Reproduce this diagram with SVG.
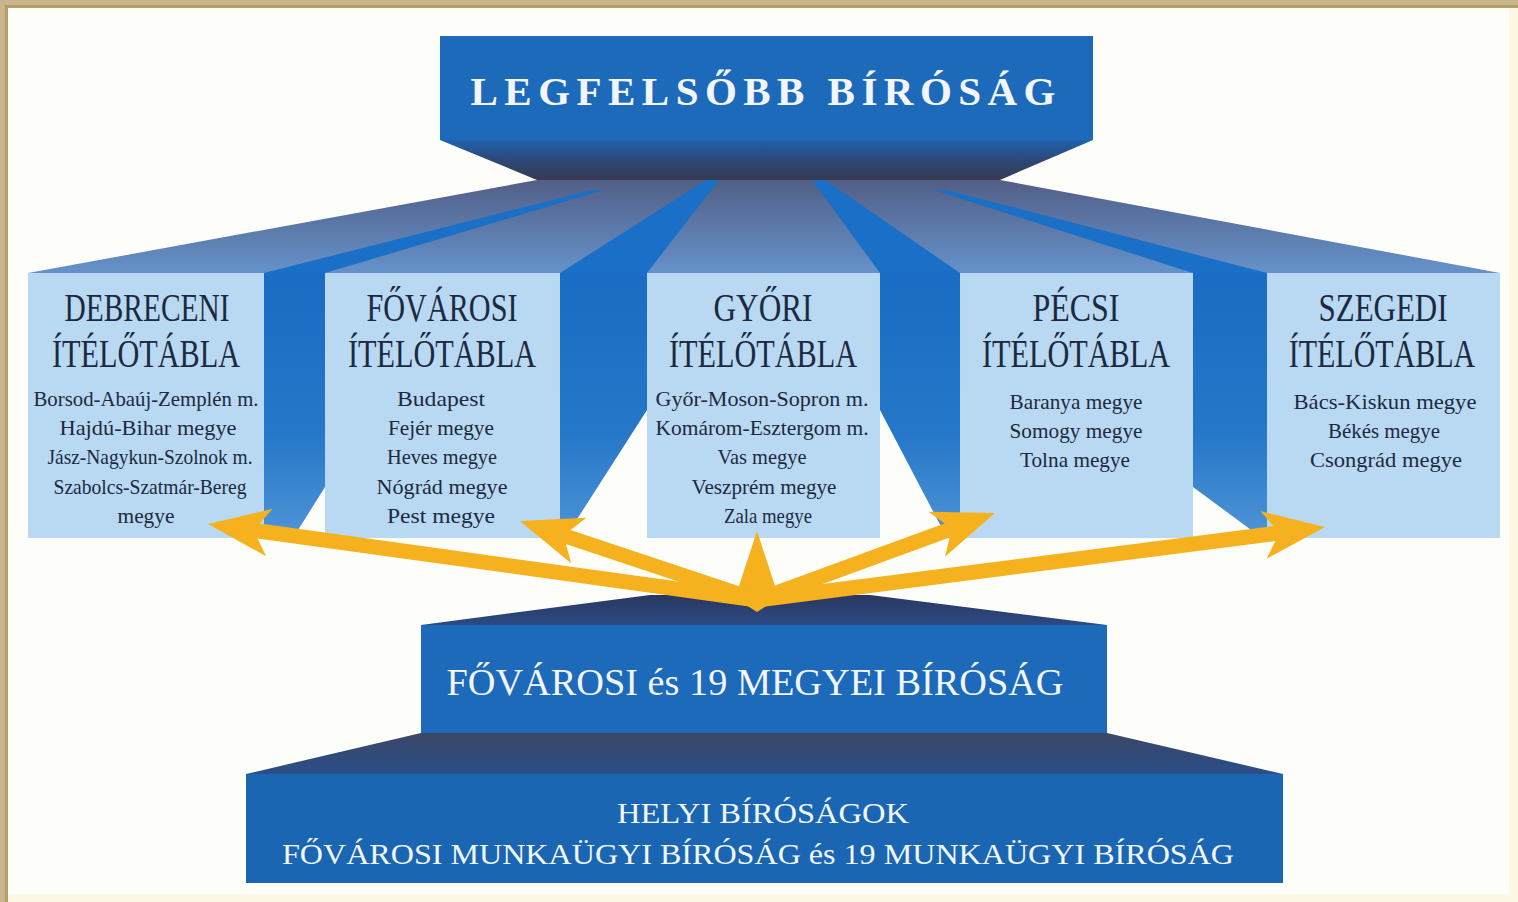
<svg xmlns="http://www.w3.org/2000/svg" width="1518" height="902" viewBox="0 0 1518 902">
  <defs>
    <linearGradient id="gTopNeck" x1="0" y1="140" x2="0" y2="180" gradientUnits="userSpaceOnUse">
      <stop offset="0" stop-color="#1f62ad"/>
      <stop offset="0.45" stop-color="#2c4a7c"/>
      <stop offset="1" stop-color="#383a52"/>
    </linearGradient>
    <linearGradient id="gFan" x1="0" y1="180" x2="0" y2="273" gradientUnits="userSpaceOnUse">
      <stop offset="0" stop-color="#525f86"/>
      <stop offset="1" stop-color="#6592cb"/>
    </linearGradient>
    <linearGradient id="gGap" x1="0" y1="273" x2="0" y2="538" gradientUnits="userSpaceOnUse">
      <stop offset="0" stop-color="#1a6cc4"/>
      <stop offset="0.6" stop-color="#2577c9"/>
      <stop offset="1" stop-color="#4f94d6"/>
    </linearGradient>
    <linearGradient id="gMidTop" x1="0" y1="595" x2="0" y2="625" gradientUnits="userSpaceOnUse">
      <stop offset="0" stop-color="#2a3760"/>
      <stop offset="1" stop-color="#2b4a84"/>
    </linearGradient>
    <linearGradient id="gLowTop" x1="0" y1="733" x2="0" y2="774" gradientUnits="userSpaceOnUse">
      <stop offset="0" stop-color="#3a4666"/>
      <stop offset="1" stop-color="#2b4e88"/>
    </linearGradient>
    <marker id="ah" viewBox="0 0 62 48" markerUnits="userSpaceOnUse" markerWidth="62" markerHeight="48" refX="16" refY="24" orient="auto">
      <path d="M0,0 L62,24 L0,48 L16,24 Z" fill="#f5b21e"/>
    </marker>
  </defs>
  <style>
    .blue { fill: #1d6abb; }
    .table { fill: #b9d9f2; }
    .strip { fill: #1a6fc6; }
    .gap { fill: url(#gGap); }
    .hd { font-family: "Liberation Serif", serif; font-size: 40px; fill: #1b2a40; text-anchor: middle; }
    .sub { font-family: "Liberation Serif", serif; font-size: 22px; fill: #1b2a40; text-anchor: middle; }
    .wt { font-family: "Liberation Serif", serif; fill: #f2f6fc; text-anchor: middle; }
    .arrow { stroke: #f5b21e; stroke-width: 15; fill: none; marker-end: url(#ah); }
  </style>

  <!-- background and frame -->
  <rect x="0" y="0" width="1518" height="902" fill="#fdfef9"/>
  <rect x="1509" y="0" width="9" height="902" fill="#fdf8e6"/>
  <rect x="0" y="894" width="1518" height="8" fill="#fdf8e6"/>
  <rect x="0" y="0" width="1518" height="8" fill="#c9b48e"/>
  <rect x="0" y="0" width="8" height="902" fill="#c9b48e"/>
  <rect x="5" y="5" width="1513" height="3" fill="#b0a064"/>
  <rect x="5" y="5" width="3" height="897" fill="#b0a064"/>

  <!-- perspective fan from the supreme court to the regional tables -->
  <g id="fan">
    <polygon points="537,180 1000,180 1500,273 28,273" fill="url(#gFan)"/>
    <polygon class="strip" points="592,190 604,190 325,273 264,273"/>
    <polygon class="strip" points="706,180 719,180 647,273 560,273"/>
    <polygon class="strip" points="812,180 825,180 960,273 880,273"/>
    <polygon class="strip" points="934,190 946,190 1267,273 1193,273"/>
    <polygon class="gap" points="264,273 325,273 325,487 293,538 264,538"/>
    <polygon class="gap" points="560,273 647,273 647,410 565,538 560,538"/>
    <polygon class="gap" points="880,273 960,273 960,538 947,538 880,410"/>
    <polygon class="gap" points="1193,273 1267,273 1267,538 1262,538 1193,487"/>
  </g>

  <g id="legfelsobb">
    <polygon points="440,140 1093,140 1000,180 537,180" fill="url(#gTopNeck)"/>
    <rect class="blue" x="440" y="36" width="653" height="104"/>
    <text class="wt" x="763" y="105" font-size="41" font-weight="bold" textLength="585" lengthAdjust="spacing">LEGFELSŐBB BÍRÓSÁG</text>
  </g>

  <g id="debreceni">
    <rect class="table" x="28" y="273" width="236" height="265"/>
    <text class="hd" x="147" y="321" textLength="165" lengthAdjust="spacingAndGlyphs">DEBRECENI</text>
    <text class="hd" x="146" y="367" textLength="188" lengthAdjust="spacingAndGlyphs">ÍTÉLŐTÁBLA</text>
    <text class="sub" x="146" y="406" textLength="225" lengthAdjust="spacingAndGlyphs">Borsod-Abaúj-Zemplén m.</text>
    <text class="sub" x="148" y="435" textLength="177" lengthAdjust="spacingAndGlyphs">Hajdú-Bihar megye</text>
    <text class="sub" x="150" y="464" textLength="205" lengthAdjust="spacingAndGlyphs">Jász-Nagykun-Szolnok m.</text>
    <text class="sub" x="150" y="494" textLength="193" lengthAdjust="spacingAndGlyphs">Szabolcs-Szatmár-Bereg</text>
    <text class="sub" x="146" y="523" textLength="57" lengthAdjust="spacingAndGlyphs">megye</text>
  </g>

  <g id="fovarosi-itelotabla">
    <rect class="table" x="325" y="273" width="235" height="265"/>
    <text class="hd" x="442" y="321" textLength="151" lengthAdjust="spacingAndGlyphs">FŐVÁROSI</text>
    <text class="hd" x="442" y="367" textLength="188" lengthAdjust="spacingAndGlyphs">ÍTÉLŐTÁBLA</text>
    <text class="sub" x="441" y="406" textLength="88" lengthAdjust="spacingAndGlyphs">Budapest</text>
    <text class="sub" x="441" y="435" textLength="106" lengthAdjust="spacingAndGlyphs">Fejér megye</text>
    <text class="sub" x="442" y="464" textLength="110" lengthAdjust="spacingAndGlyphs">Heves megye</text>
    <text class="sub" x="442" y="494" textLength="131" lengthAdjust="spacingAndGlyphs">Nógrád megye</text>
    <text class="sub" x="441" y="523" textLength="108" lengthAdjust="spacingAndGlyphs">Pest megye</text>
  </g>

  <g id="gyori">
    <rect class="table" x="647" y="273" width="233" height="265"/>
    <text class="hd" x="763" y="321" textLength="99" lengthAdjust="spacingAndGlyphs">GYŐRI</text>
    <text class="hd" x="763" y="367" textLength="188" lengthAdjust="spacingAndGlyphs">ÍTÉLŐTÁBLA</text>
    <text class="sub" x="762" y="406" textLength="213" lengthAdjust="spacingAndGlyphs">Győr-Moson-Sopron m.</text>
    <text class="sub" x="762" y="435" textLength="213" lengthAdjust="spacingAndGlyphs">Komárom-Esztergom m.</text>
    <text class="sub" x="762" y="464" textLength="89" lengthAdjust="spacingAndGlyphs">Vas megye</text>
    <text class="sub" x="764" y="494" textLength="145" lengthAdjust="spacingAndGlyphs">Veszprém megye</text>
    <text class="sub" x="768" y="523" textLength="88" lengthAdjust="spacingAndGlyphs">Zala megye</text>
  </g>

  <g id="pecsi">
    <rect class="table" x="960" y="273" width="233" height="265"/>
    <text class="hd" x="1076" y="321" textLength="87" lengthAdjust="spacingAndGlyphs">PÉCSI</text>
    <text class="hd" x="1076" y="367" textLength="188" lengthAdjust="spacingAndGlyphs">ÍTÉLŐTÁBLA</text>
    <text class="sub" x="1076" y="409" textLength="133" lengthAdjust="spacingAndGlyphs">Baranya megye</text>
    <text class="sub" x="1076" y="438" textLength="133" lengthAdjust="spacingAndGlyphs">Somogy megye</text>
    <text class="sub" x="1075" y="467" textLength="110" lengthAdjust="spacingAndGlyphs">Tolna megye</text>
  </g>

  <g id="szegedi">
    <rect class="table" x="1267" y="273" width="233" height="265"/>
    <text class="hd" x="1383" y="321" textLength="129" lengthAdjust="spacingAndGlyphs">SZEGEDI</text>
    <text class="hd" transform="translate(1382,367) scale(0.75,1)" x="0" y="0">ÍTÉLŐTÁBLA</text>
    <text class="sub" x="1385" y="409" textLength="183" lengthAdjust="spacingAndGlyphs">Bács-Kiskun megye</text>
    <text class="sub" x="1384" y="438" textLength="112" lengthAdjust="spacingAndGlyphs">Békés megye</text>
    <text class="sub" x="1386" y="467" textLength="152" lengthAdjust="spacingAndGlyphs">Csongrád megye</text>
  </g>

  <g id="megyei">
    <polygon points="421,625 650,595 870,595 1107,625" fill="url(#gMidTop)"/>
    <rect class="blue" x="421" y="625" width="686" height="108"/>
    <text class="wt" x="755" y="695" font-size="38" textLength="617" lengthAdjust="spacingAndGlyphs">FŐVÁROSI és 19 MEGYEI BÍRÓSÁG</text>
  </g>

  <g id="helyi">
    <polygon points="421,733 1107,733 1283,774 246,774" fill="url(#gLowTop)"/>
    <rect x="246" y="774" width="1037" height="109" fill="#1a66b3"/>
    <text class="wt" x="763" y="823" font-size="29" textLength="292" lengthAdjust="spacingAndGlyphs">HELYI BÍRÓSÁGOK</text>
    <text class="wt" x="758" y="864" font-size="29" textLength="952" lengthAdjust="spacingAndGlyphs">FŐVÁROSI MUNKAÜGYI BÍRÓSÁG és 19 MUNKAÜGYI BÍRÓSÁG</text>
  </g>

  <g id="connectors">
    <line class="arrow" x1="757" y1="600" x2="253.6" y2="530.3"/>
    <line class="arrow" x1="757" y1="600" x2="563.6" y2="535.5"/>
    <line class="arrow" x1="757" y1="600" x2="951.8" y2="528.8"/>
    <line class="arrow" x1="757" y1="600" x2="1279.4" y2="532.9"/>
    <polygon points="757,531 779,598 757,612 735,598" fill="#f5b21e"/>
  </g>
</svg>
